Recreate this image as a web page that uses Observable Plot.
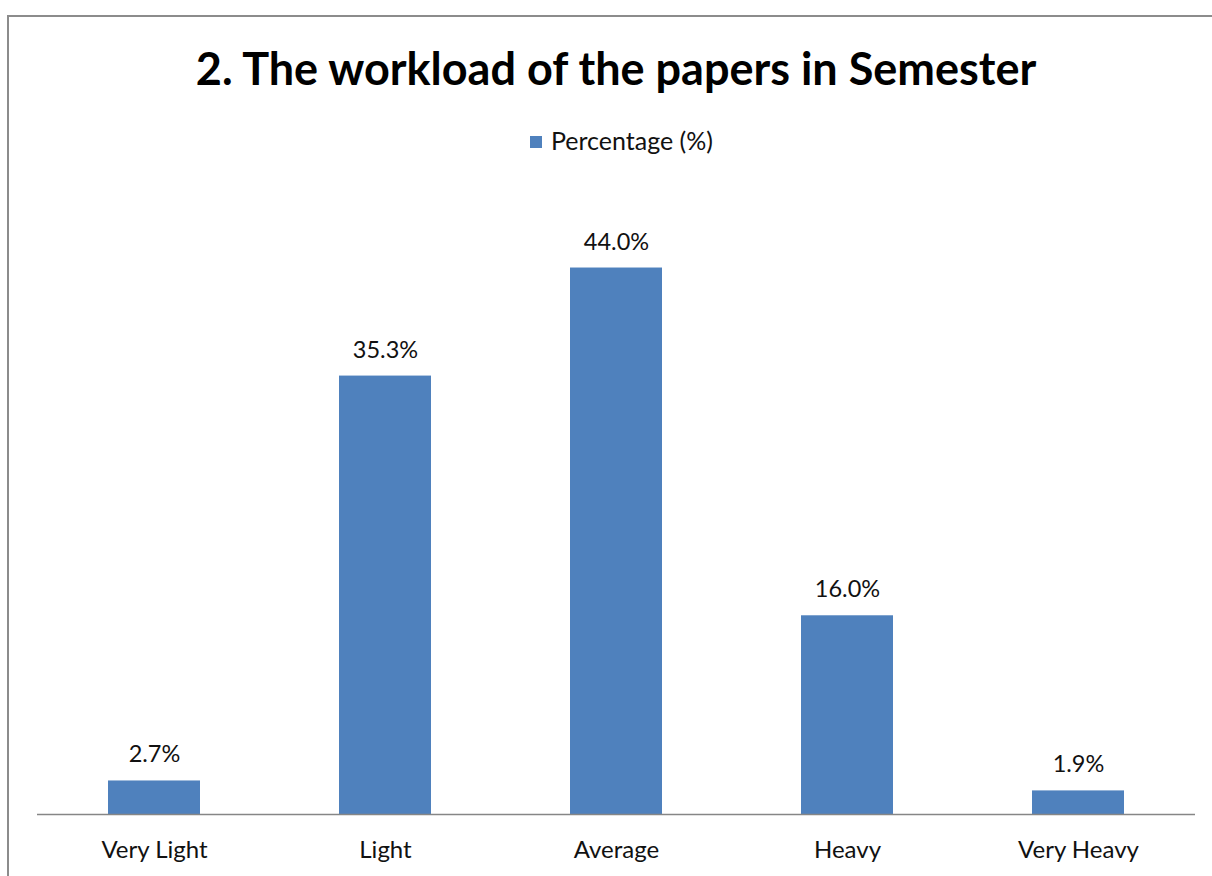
<!DOCTYPE html>
<html>
<head>
<meta charset="utf-8">
<script src="https://cdn.jsdelivr.net/npm/d3@7"></script>
<script src="https://cdn.jsdelivr.net/npm/@observablehq/plot@0.6"></script>
<style>
  html, body { margin: 0; padding: 0; background: #fff; }
  body { width: 1212px; height: 876px; position: relative; overflow: hidden; font-family: Lato, "Open Sans", sans-serif; color: #111; }
  #frame { position: absolute; left: 7px; top: 15px; width: 1220px; height: 900px; border: 2px solid #8c8c8c; box-sizing: border-box; }
  #title { position: absolute; left: 0; width: 1232px; top: 38px; text-align: center; font-weight: 700; font-size: 45px; line-height: 60px; color: #000; }
  #legend { position: absolute; left: 0; width: 1243px; top: 124px; text-align: center; font-size: 25px; line-height: 32px; color: #111; }
  #legend .sw { display: inline-block; width: 12px; height: 12px; background: #4F81BD; margin-right: 9px; vertical-align: 2px; }
  #chart { position: absolute; left: 0; top: 170px; }
</style>
</head>
<body>
<div id="frame"></div>
<div id="title">2. The workload of the papers in Semester</div>
<div id="legend"><span class="sw"></span>Percentage (%)</div>
<div id="chart"></div>
<script>
const categories = ["Very Light", "Light", "Average", "Heavy", "Very Heavy"];
const percentages = [2.7, 35.3, 44.0, 16.0, 1.9];
const valueLabels = ["2.7%", "35.3%", "44.0%", "16.0%", "1.9%"];

const data = categories.map((c, i) => ({category: c, value: percentages[i], label: valueLabels[i]}));

const chart = Plot.plot({
  width: 1212,
  height: 706,
  marginLeft: 37,
  marginRight: 17,
  marginTop: 23,
  marginBottom: 62,
  style: {fontFamily: "Lato, 'Open Sans', sans-serif", fontSize: "24px", color: "#111", background: "transparent"},
  x: {domain: categories, paddingInner: 0.6, paddingOuter: 0.3, label: null, tickSize: 0, tickPadding: 26},
  y: {domain: [0, 50], axis: null},
  marks: [
    Plot.barY(data, {x: "category", y: "value", fill: "#4F81BD"}),
    Plot.ruleY([0], {stroke: "#868686", strokeWidth: 1.5}),
    Plot.text(data, {x: "category", y: "value", text: "label", dy: -26, lineAnchor: "middle", fontSize: 23.5, fill: "#111"})
  ]
});
document.getElementById("chart").appendChild(chart);
</script>
</body>
</html>
